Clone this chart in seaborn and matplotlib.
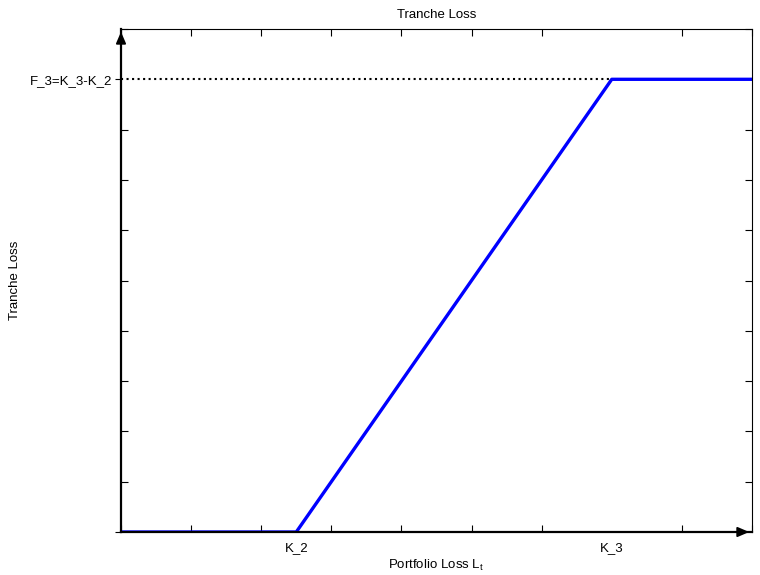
import numpy as np
import pandas as pd
import matplotlib
matplotlib.use('Agg')
import matplotlib.pyplot as plt
import seaborn as sns

# tranche loss as function of portfolio loss
K_2 = 0.125
K_3 = 0.35
F_3 = K_3 - K_2
x_max = 0.45
y_max = 0.25

loss_x = [0.0, K_2, K_3, x_max]
loss_y = [0.0, 0.0, F_3, F_3]

x_labels = ['K_2', 'K_3']
y_labels = ['', 'F_3=K_3-K_2']

sns.set_theme(style="white")
plt.rcParams['font.family'] = ['Liberation Sans', 'DejaVu Sans']
plt.rcParams['mathtext.fontset'] = 'custom'
plt.rcParams['mathtext.rm'] = 'Liberation Sans'
plt.rcParams['mathtext.it'] = 'Liberation Sans'
plt.rcParams['text.color'] = 'black'
plt.rcParams['axes.labelcolor'] = 'black'

fs = 9.5

fig = plt.figure(figsize=(7.6, 5.75), dpi=100)
ax = fig.add_axes([121/760, 43/575, 631/760, 503/575])

df = pd.DataFrame({'L': loss_x, 'TL': loss_y})
# line sits under the thick bottom axis so the flat part looks dark
sns.lineplot(data=df, x='L', y='TL', color='#0000ff', linewidth=2.4, ax=ax, zorder=2)

# dotted guide at F_3
ax.plot([0, K_3], [F_3, F_3], linestyle=':', color='black', linewidth=1.5, zorder=2)

ax.set_xlim(0, x_max)
ax.set_ylim(0, y_max)

# labelled ticks
ax.set_xticks([K_2, K_3])
ax.set_xticklabels(x_labels)
ax.set_yticks([0, F_3])
ax.set_yticklabels(y_labels)
ax.tick_params(axis='x', which='major', length=0, labelsize=fs, colors='black', pad=7)
ax.tick_params(axis='y', which='major', direction='out', length=4, width=0.8,
               labelsize=fs, colors='black', pad=2, left=True)

# unlabelled inward ticks
ax.set_xticks(np.arange(0, x_max + 0.001, 0.05), minor=True)
ax.set_yticks(np.arange(0, y_max + 0.001, 0.025), minor=True)
ax.tick_params(which='minor', direction='in', length=5, width=0.8, color='black',
               top=True, bottom=True, left=True, right=True)

for s in ['top', 'right']:
    ax.spines[s].set_linewidth(0.8)
    ax.spines[s].set_color('black')
for s in ['left', 'bottom']:
    ax.spines[s].set_linewidth(1.6)
    ax.spines[s].set_color('black')
    ax.spines[s].set_zorder(3)

# arrow heads on the axes
arrow = dict(arrowstyle='-|>,head_length=0.7,head_width=0.3',
             color='black', lw=1.3, mutation_scale=10)
ax.annotate('', xy=(0, 1.0), xytext=(0, 0.97), xycoords='axes fraction',
            arrowprops=arrow, annotation_clip=False, zorder=5)
ax.annotate('', xy=(1.0, 0), xytext=(0.97, 0), xycoords='axes fraction',
            arrowprops=arrow, annotation_clip=False, zorder=5)

ax.set_title('Tranche Loss', fontsize=fs, pad=8, color='black')
ax.set_xlabel(r'Portfolio Loss L$_{\rm t}$', fontsize=fs)
ax.set_ylabel('Tranche Loss', fontsize=fs)
ax.xaxis.set_label_coords(0.5, -26 / 503)
ax.yaxis.set_label_coords(-100 / 631, 0.5)

fig.savefig('out.png', dpi=100)
